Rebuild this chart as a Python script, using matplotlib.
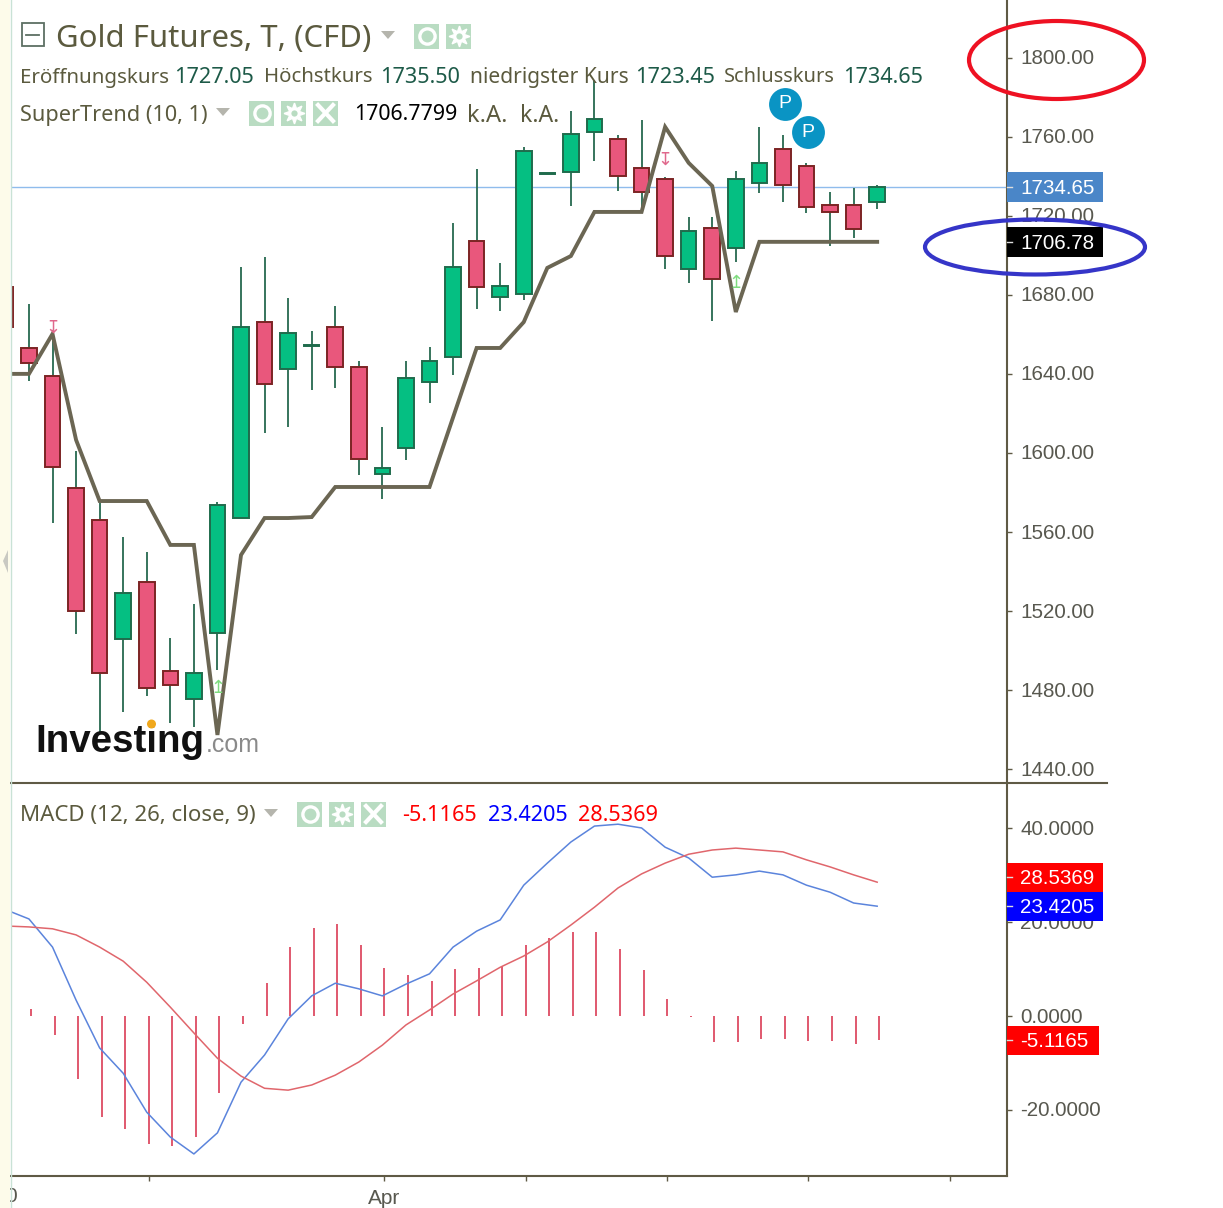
#!/usr/bin/env python
"""Gold Futures daily candles with SuperTrend and MACD panels."""

import matplotlib

matplotlib.use("Agg")
import matplotlib.pyplot as plt
from matplotlib.patches import Circle, Ellipse, Polygon, Rectangle
from matplotlib.transforms import ScaledTranslation

W, H = 1223, 1208

# candles, oldest first
opens = [1684.0, 1653.1, 1638.9, 1582.3, 1566.1, 1505.9, 1534.8, 1489.8, 1475.6, 1509.0,
         1567.1, 1666.2, 1642.5, 1654.1, 1663.7, 1643.5, 1589.4, 1602.5, 1635.9, 1648.5,
         1707.2, 1678.9, 1680.4, 1741.1, 1742.1, 1762.3, 1758.8, 1744.1, 1738.6, 1693.1,
         1713.8, 1703.7, 1736.5, 1753.7, 1745.2, 1725.4, 1725.4, 1727.05]
closes = [1663.7, 1645.5, 1592.9, 1520.1, 1488.7, 1529.2, 1481.2, 1482.7, 1488.7, 1573.7,
          1663.7, 1634.9, 1660.7, 1654.6, 1643.5, 1597.0, 1592.4, 1637.9, 1646.5, 1694.1,
          1684.0, 1684.5, 1752.7, 1741.6, 1761.3, 1768.9, 1740.1, 1732.0, 1699.6, 1712.3,
          1688.0, 1738.6, 1746.7, 1735.5, 1724.4, 1721.9, 1713.3, 1734.65]
highs = [1690.0, 1675.3, 1658.6, 1601.0, 1574.7, 1557.5, 1549.9, 1506.4, 1523.6, 1575.2,
         1694.1, 1699.1, 1678.4, 1661.7, 1674.3, 1646.5, 1613.2, 1646.5, 1653.6, 1716.3,
         1743.6, 1696.1, 1754.7, 1741.6, 1773.0, 1788.6, 1760.8, 1768.4, 1739.6, 1719.3,
         1719.3, 1742.6, 1764.9, 1760.8, 1746.7, 1732.0, 1734.0, 1735.5]
lows = [1655.0, 1636.4, 1564.6, 1508.5, 1458.4, 1469.0, 1477.1, 1463.5, 1461.4, 1490.3,
        1567.1, 1610.1, 1613.2, 1631.9, 1632.9, 1588.9, 1576.7, 1596.5, 1625.3, 1639.4,
        1672.8, 1671.8, 1677.4, 1741.1, 1724.9, 1747.7, 1732.5, 1721.9, 1693.1, 1686.0,
        1666.7, 1696.6, 1731.5, 1726.9, 1721.4, 1704.7, 1708.7, 1723.45]
supertrend = [1640.0, 1640.0, 1660.2, 1606.6, 1575.7, 1575.7, 1575.7, 1553.5, 1553.5, 1457.4,
              1548.4, 1567.1, 1567.1, 1567.6, 1582.8, 1582.8, 1582.8, 1582.8, 1582.8, 1618.0,
              1653.1, 1653.1, 1666.2, 1693.6, 1699.6, 1721.9, 1721.9, 1721.9, 1764.9, 1746.7,
              1735.0, 1671.3, 1706.78, 1706.78, 1706.78, 1706.78, 1706.78, 1706.78]

# MACD panel
macd_line = [22.7, 20.7, 14.7, 3.4, -6.8, -12.2, -20.5, -25.8, -29.4, -24.9,
             -14.1, -8.3, -0.6, 4.3, 7.0, 5.8, 4.3, 6.8, 9.0, 14.7,
             18.1, 20.5, 27.9, 32.6, 37.1, 40.5, 40.9, 40.1, 36.0, 33.7,
             29.6, 30.1, 30.9, 30.1, 27.9, 26.4, 24.1, 23.42]
signal_line = [19.2, 19.0, 18.6, 17.3, 14.7, 11.7, 7.2, 1.9, -3.6, -9.0,
               -12.8, -15.4, -15.8, -14.7, -12.6, -9.8, -6.2, -1.9, 1.3, 4.7,
               7.5, 10.4, 12.8, 15.8, 19.4, 23.2, 27.3, 30.3, 32.6, 34.5,
               35.4, 35.8, 35.4, 35.0, 33.3, 31.8, 30.1, 28.54]
macd_hist = [0.0, 1.5, -4.1, -13.4, -21.6, -24.1, -27.2, -27.6, -25.8, -16.4,
             -1.6, 7.0, 14.7, 18.7, 19.6, 15.1, 10.2, 8.7, 7.5, 10.0,
             10.2, 10.7, 15.1, 16.6, 17.9, 17.9, 14.3, 9.8, 3.6, -0.2,
             -5.5, -5.5, -4.9, -4.9, -5.3, -5.3, -6.0, -5.12]

price_ticks = [1440, 1480, 1520, 1560, 1600, 1640, 1680, 1720, 1760, 1800]
macd_ticks = [-20, 0, 20, 40]
date_ticks = [6, 16, 22, 28, 34, 40]
date_labels = ["", "Apr", "", "", "", ""]

pivot_idx = [33, 34]
pivot_price = [1776.5, 1762.3]
signal_up = [(9, 1481.2), (31, 1686.0)]
signal_down = [(2, 1663.2), (28, 1748.2)]

last_close = 1734.65
last_supertrend = 1706.78
last_hist, last_macd, last_signal = -5.1165, 23.4205, 28.5369

GREEN, GREEN_EDGE = "#05bf82", "#1f6b4c"
RED, RED_EDGE = "#e9577c", "#7c2424"
WICK = "#26694f"
LINE = "#6b6653"
AXIS = "#5f5a45"
LABEL = "#58584f"
TEXT = "#5b5a3e"
NUM = "#1d5a48"
ICON = "#b9dcc2"
FONT = "Noto Sans"
ARIAL = "Liberation Sans"


def px_axes(fig, left, top, right, bottom, **kw):
    return fig.add_axes([left / W, 1 - bottom / H, (right - left) / W, (bottom - top) / H], **kw)


def style_axis(ax, ticks, fmt):
    for side in ("top", "left", "bottom"):
        ax.spines[side].set_visible(False)
    ax.spines["right"].set_color(AXIS)
    ax.spines["right"].set_linewidth(1.5)
    ax.yaxis.tick_right()
    ax.set_yticks(ticks)
    ax.set_yticklabels([fmt % t for t in ticks], family=ARIAL, fontsize=14.9, color=LABEL)
    ax.tick_params(axis="y", length=3.6, width=1, color=AXIS, pad=5.8)
    up_1px = ScaledTranslation(0, 1 / 100, fig.dpi_scale_trans)
    for lab in ax.get_yticklabels():
        lab.set_transform(lab.get_transform() + up_1px)


def icon_row(ov, xs, y, with_close=False):
    # little settings buttons next to the legend rows
    for n, x in enumerate(xs):
        ov.add_patch(Rectangle((x, y - 12.5), 25, 25, fc=ICON, ec="none"))
        if n == 0:
            ov.plot(x + 12.5, y, "o", ms=11, mfc="none", mec="white", mew=2.4)
        elif n == 1:
            ov.plot(x + 12.5, y, marker=(8, 1, 0), ms=15, mfc="white", mec="white")
            ov.plot(x + 12.5, y, "o", ms=4.5, mfc=ICON, mec="none")
        elif with_close:
            ov.plot([x + 5, x + 20], [y - 8, y + 8], color="white", lw=3)
            ov.plot([x + 5, x + 20], [y + 8, y - 8], color="white", lw=3)


def legend_text(ov, items, y):
    for x, s, color, size in items:
        ov.text(x, y, s, family=FONT, fontsize=size, color=color, ha="left", va="center_baseline")


def drop_tri(ov, x, y):
    ov.add_patch(Polygon([(x - 7, y - 4), (x + 7, y - 4), (x, y + 4)], fc="#b5b5ad", ec="none"))


fig = plt.figure(figsize=(W / 100, H / 100), dpi=100, facecolor="white")
ax = px_axes(fig, 11, 0, 1007, 783)
ax2 = px_axes(fig, 11, 784, 1007, 1176, sharex=ax)
ov = px_axes(fig, 0, 0, W, H, zorder=5)
ov.set_xlim(0, W)
ov.set_ylim(H, 0)
ov.axis("off")

idx = list(range(len(opens)))
hist_x = [i + 0.085 for i in idx]

# price panel
ax.set_xlim(0.238, 42.51)
ax.set_ylim(1433.1, 1829.08)
ax.axhline(last_close, color="#8fbcec", lw=1, zorder=1)
ax.vlines(idx, lows, highs, color=WICK, lw=1.3, zorder=2)
for i, o, c in zip(idx, opens, closes):
    up = c >= o
    ax.bar(i, abs(c - o), bottom=min(o, c), width=0.66, color=GREEN if up else RED,
           edgecolor=GREEN_EDGE if up else RED_EDGE, linewidth=1.4, zorder=3)
ax.plot(idx, supertrend, color=LINE, lw=2.8, solid_joinstyle="miter", zorder=4)
style_axis(ax, price_ticks, "%.2f")
ax.tick_params(axis="x", which="both", bottom=False, labelbottom=False)

ax.scatter([i + 0.08 for i in pivot_idx], pivot_price, s=560, color="#0a94c4", zorder=6, linewidths=0)
for i, p in zip(pivot_idx, pivot_price):
    ax.text(i + 0.08, p, "P", color="white", family=ARIAL, fontsize=14, ha="center", va="center", zorder=7)
for i, p in signal_up:
    ax.text(i, p, "\u21a5", color="#7fdc7f", fontsize=13, ha="center", va="center", zorder=5)
for i, p in signal_down:
    ax.text(i, p, "\u21a7", color="#e0688c", fontsize=13, ha="center", va="center", zorder=5)

# macd panel
ax2.set_ylim(-34.1, 49.47)
ax2.vlines(hist_x, 0, macd_hist, color="#e0586e", lw=1.4, zorder=2)
ax2.plot(idx, macd_line, color="#5b84dc", lw=1.1, zorder=3)
ax2.plot(idx, signal_line, color="#e0666c", lw=1.1, zorder=3)
style_axis(ax2, macd_ticks, "%.4f")
ax2.spines["bottom"].set_visible(True)
ax2.spines["bottom"].set_color(AXIS)
ax2.spines["bottom"].set_linewidth(1.5)
ax2.set_xticks([t + 0.085 for t in date_ticks])
ax2.set_xticklabels(date_labels, family=ARIAL, fontsize=15, color=LABEL)
ax2.tick_params(axis="x", length=3.6, width=1, color=AXIS, pad=5.5)

# value tags on the right axis, placed from the values themselves
# the signal tag sits a little higher so it does not overlap the macd tag
fig.canvas.draw()
tags = [(ax, last_close, "%.2f", "#4a86c8", 96, 0), (ax, last_supertrend, "%.2f", "black", 96, 0),
        (ax2, last_signal, "%.4f", "#ff0000", 96, -5), (ax2, last_macd, "%.4f", "#0000ff", 96, 0),
        (ax2, last_hist, "%.4f", "#ff0000", 92, 0)]
for a, val, fmt, col, wid, shift in tags:
    y = H - a.transData.transform((1, val))[1] + shift
    ov.add_patch(Rectangle((1007, y - 14.5), wid, 29.5, fc=col, ec="none"))
    ov.plot([1007, 1012], [y, y], color="#dddddd", lw=1)
    ov.text(1020, y + 1.5, fmt % val, family=ARIAL, fontsize=14.9, color="white", ha="left", va="center")

# frame bits
ov.plot([11, 1107], [783, 783], color=AXIS, lw=1.5)
ov.text(11, 1197, "0", family=ARIAL, fontsize=15, color=LABEL, ha="center", va="center", zorder=1)
ov.add_patch(Rectangle((0, 0), 10, H, fc="#fdfbea", ec="none", zorder=3))
ov.plot([10.5, 10.5], [0, H], color="#c9e2d6", lw=1, zorder=3)
ov.add_patch(Polygon([(8, 550), (3, 561), (8, 573)], fc="#c9c9c2", ec="none", zorder=4))

# header rows
ov.add_patch(Rectangle((21.5, 23), 22, 23, fc="none", ec="#5d6f63", lw=1.3))
ov.plot([26, 39], [34.5, 34.5], color="#5d6f63", lw=1.3)
ov.text(56, 35.5, "Gold Futures, T, (CFD)", family=FONT, fontsize=22.4, color=TEXT, ha="left", va="center_baseline")
drop_tri(ov, 388, 35)
icon_row(ov, [414, 446], 36)

legend_text(ov, [(20, "Eröffnungskurs", TEXT, 14.8), (174, "1727.05", NUM, 15.6),
                 (264, "Höchstkurs", TEXT, 14.7), (380, "1735.50", NUM, 15.6),
                 (470, "niedrigster Kurs", TEXT, 15.1), (635, "1723.45", NUM, 15.6),
                 (724, "Schlusskurs", TEXT, 14.4), (843, "1734.65", NUM, 15.6)], 75)
legend_text(ov, [(20, "SuperTrend (10, 1)", TEXT, 15.6), (354, "1706.7799", "black", 15.4),
                 (467, "k.A.", TEXT, 17), (520, "k.A.", TEXT, 16.5)], 112.5)
drop_tri(ov, 223, 112)
icon_row(ov, [249, 281, 313], 113, with_close=True)

legend_text(ov, [(20, "MACD (12, 26, close, 9)", TEXT, 16), (402, "-5.1165", "#ff0000", 15.6),
                 (488, "23.4205", "#0000ff", 15.6), (578, "28.5369", "#ff0000", 15.6)], 813)
drop_tri(ov, 271, 813)
icon_row(ov, [297, 329, 361], 814, with_close=True)

# watermark
ov.text(35, 752, "Investing", family=ARIAL, weight="bold", fontsize=27.7, color="#111111", ha="left", va="baseline")
ov.text(206, 752, ".com", family=ARIAL, fontsize=18, color="#8a8a8a", ha="left", va="baseline")
ov.add_patch(Circle((151.5, 724), 4.5, fc="#f0a81c", ec="none", zorder=4))

# hand drawn circles
ov.add_patch(Ellipse((1056.5, 60), 175, 78, fc="none", ec="#ee1122", lw=3))
ov.add_patch(Ellipse((1035, 247), 220, 55, fc="none", ec="#3535c8", lw=3))

fig.savefig("out.png", dpi=100)
plt.close(fig)
